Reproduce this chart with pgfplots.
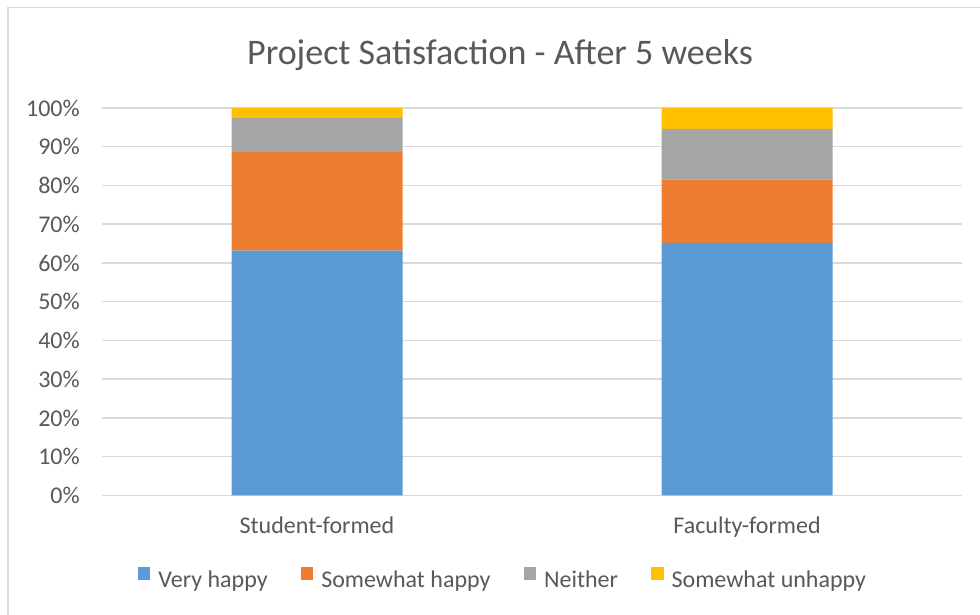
\documentclass[border=0pt]{standalone}
\usepackage{pgfplots}
\pgfplotsset{compat=1.18}
\usepackage{fontspec}
\setmainfont{Carlito}
\definecolor{cblue}{HTML}{5B9BD5}
\definecolor{corange}{HTML}{ED7D31}
\definecolor{cgray}{HTML}{A5A5A5}
\definecolor{cgold}{HTML}{FFC000}
\definecolor{txt}{HTML}{595959}
\definecolor{grid}{HTML}{D9D9D9}
\begin{document}
\begin{tikzpicture}[x=1pt,y=1pt]
\useasboundingbox (0,0) rectangle (980,615);
\fill[white] (0,0) rectangle (980,615);
\draw[grid, line width=1.3pt] (8,-2) -- (8,607.5) -- (982,607.5);
\begin{axis}[
  at={(102pt,119.5pt)}, anchor=south west,
  scale only axis, width=860pt, height=387.5pt,
  ybar stacked, bar width=171pt,
  xmin=-0.5, xmax=1.5, ymin=0, ymax=100,
  xtick={0,1}, xticklabels={Student-formed,Faculty-formed},
  ytick={0,10,...,100},
  yticklabel={\pgfmathprintnumber{\tick}\%},
  /pgf/number format/assume math mode=true,
  major tick length=0pt,
  axis line style={draw=none},
  ymajorgrids, grid style={color=grid, line width=1.5pt},
  tick label style={font=\fontsize{24}{28}\selectfont, color=txt, inner sep=0pt},
  yticklabel style={anchor=east, xshift=-22pt},
  xticklabel style={anchor=north, yshift=-21.5pt},
  title={Project Satisfaction - After 5 weeks},
  every axis title shift=0pt,
  title style={at={(0.4628,1)}, anchor=base, yshift=43.7pt, inner sep=0pt,
    font=\fontsize{36}{42}\selectfont, color=txt},
  legend columns=-1,
  legend style={at={(0.4651,-0.2129)}, anchor=center, draw=none, fill=none,
    font=\fontsize{24}{28}\selectfont, text=txt,
    nodes={inner sep=0pt},
    /tikz/every odd column/.append style={column sep=8pt},
    /tikz/every even column/.append style={column sep=33pt}},
  legend image code/.code={\fill[#1] (0pt,-0.5pt) rectangle (12.6pt,12.1pt);},
]
\addplot[fill=cblue, draw=none] coordinates {(0,63.2) (1,65.2)};
\addplot[fill=corange, draw=none] coordinates {(0,25.4) (1,16.3)};
\addplot[fill=cgray, draw=none] coordinates {(0,9.0) (1,13.1)};
\addplot[fill=cgold, draw=none] coordinates {(0,2.4) (1,5.4)};
\legend{Very happy, Somewhat happy, Neither, Somewhat unhappy}
\end{axis}
\end{tikzpicture}
\end{document}
